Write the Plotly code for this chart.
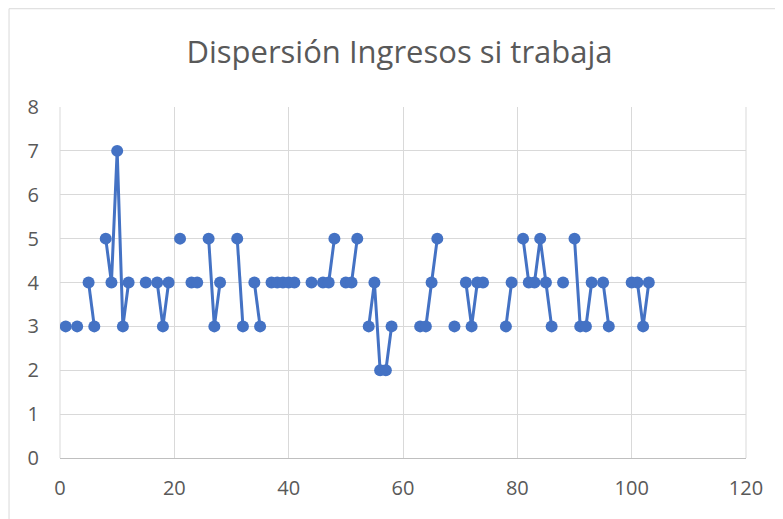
import plotly.graph_objects as go

title_text = "Dispersión Ingresos si trabaja"
x_values = list(range(1, 104))
ingresos = [
    3, None, 3, None, 4, 3, None, 5, 4, 7,
    3, 4, None, None, 4, None, 4, 3, 4, None,
    5, None, 4, 4, None, 5, 3, 4, None, None,
    5, 3, None, 4, 3, None, 4, 4, 4, 4,
    4, None, None, 4, None, 4, 4, 5, None, 4,
    4, 5, None, 3, 4, 2, 2, 3, None, None,
    None, None, 3, 3, 4, 5, None, None, 3, None,
    4, 3, 4, 4, None, None, None, 3, 4, None,
    5, 4, 4, 5, 4, 3, None, 4, None, 5,
    3, 3, 4, None, 4, 3, None, None, None, 4,
    4, 3, 4,
]
x_ticks = [0, 20, 40, 60, 80, 100, 120]
y_ticks = [0, 1, 2, 3, 4, 5, 6, 7, 8]

blue = "#4472C4"
grid = "#D9D9D9"
text_col = "#595959"
font_family = "Open Sans, Liberation Sans, sans-serif"

fig = go.Figure()
fig.add_trace(go.Scatter(
    x=x_values, y=ingresos, mode="lines+markers",
    connectgaps=False,
    line=dict(color=blue, width=3),
    marker=dict(color=blue, size=12),
    showlegend=False,
))

fig.update_layout(
    width=783, height=519,
    margin=dict(l=52, r=45, t=99, b=69),
    paper_bgcolor="white", plot_bgcolor="white",
    font=dict(family=font_family, color=text_col, size=20),
    title=dict(text=title_text, x=0.5, xanchor="center", y=0.915, yanchor="middle",
               font=dict(size=31, color=text_col, family=font_family)),
    xaxis=dict(range=[0, 120], tickvals=x_ticks, showgrid=True, gridcolor=grid,
               gridwidth=1, zeroline=False, showline=True, linecolor="#BFBFBF",
               linewidth=1, ticks="", ticklabelstandoff=12,
               tickfont=dict(size=20, color=text_col)),
    yaxis=dict(range=[0, 8], tickvals=y_ticks, showgrid=True, gridcolor=grid,
               gridwidth=1, zeroline=False, showline=False, ticks="",
               ticklabelstandoff=20, tickfont=dict(size=20, color=text_col)),
    shapes=[dict(type="rect", xref="paper", yref="paper",
                 x0=-0.0743, y0=-0.5, x1=1.2, y1=1.28,
                 line=dict(color=grid, width=1), fillcolor="rgba(0,0,0,0)", layer="below"),
            dict(type="line", xref="paper", yref="paper", x0=0, x1=0, y0=0, y1=1,
                 line=dict(color=grid, width=1), layer="below"),
            dict(type="line", xref="paper", yref="paper", x0=1, x1=1, y0=0, y1=1,
                 line=dict(color=grid, width=1), layer="below")],
)

fig.write_html("out.html")
